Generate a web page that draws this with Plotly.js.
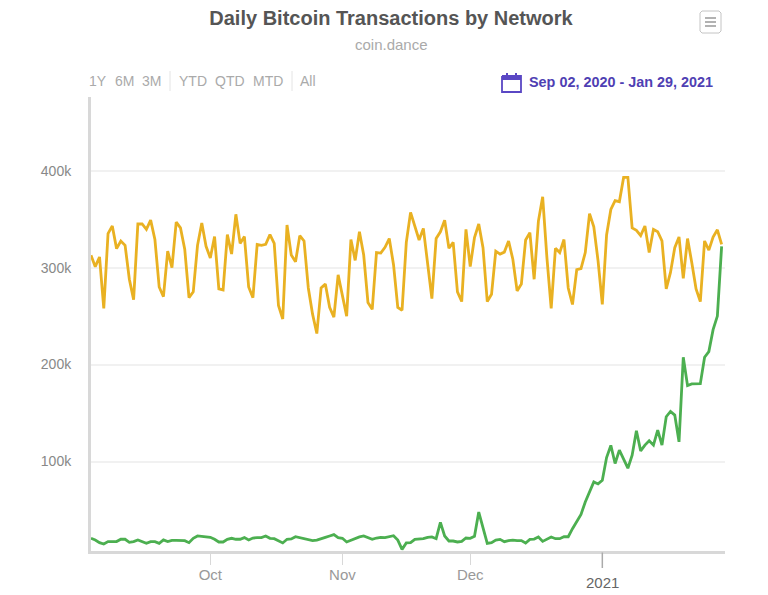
<!DOCTYPE html>
<html>
<head>
<meta charset="utf-8">
<title>Daily Bitcoin Transactions by Network</title>
<script src="https://cdn.plot.ly/plotly-3.0.1.min.js"></script>
<style>
  html, body { margin: 0; padding: 0; background: #fff; }
  #chart { width: 768px; height: 595px; }
</style>
</head>
<body>
<div id="chart"></div>
<script>
// daily values in thousands, first day is Sep 3 2020
const firstDay = '2020-09-03';

const bitcoinCore = [
  312.7, 301, 311, 258, 335, 343, 319.6, 327.5, 323, 288,
  267, 345, 345, 339.5, 349, 329, 280, 270, 317, 300,
  347, 341, 319, 269, 275, 323, 346, 322, 310, 332,
  278, 277, 334, 314, 355, 325, 332, 280, 269, 324,
  323, 324, 334, 325, 261, 247, 344, 313, 306, 333,
  327.5, 279, 252, 232, 279, 283, 259, 249, 292.5, 271,
  250, 329, 307.5, 337, 313, 264, 257, 315.5, 315, 321,
  330, 303, 259, 256, 326, 357, 343, 328.5, 340.5, 302,
  268, 330, 337, 349, 320, 326, 275, 265, 339.5, 301,
  331, 345, 320.6, 265, 272.5, 317, 314, 316, 327.5, 308.6,
  276, 283, 328.5, 336, 288, 348, 373, 310, 258, 320,
  315.5, 329, 279, 262, 298, 299, 315.5, 355.7, 342, 307,
  262, 333.7, 360, 369, 368, 393, 393, 341, 338.5, 333,
  343, 315.5, 339.5, 337, 327.5, 278, 295, 320.6, 331.6, 289,
  330, 305, 278, 265, 327.5, 318, 331.6, 339, 324
];

const segwit = [
  20.8, 19.1, 16.3, 14.9, 17.4, 17.4, 17.4, 19.8, 19.8, 16.7,
  17.4, 19.1, 17.4, 15.6, 17.4, 17.4, 15.6, 19.1, 17.4, 18.7,
  18.7, 18.7, 18.4, 16.3, 20.8, 23.2, 22.5, 21.8, 21.8, 19.8,
  17, 17, 19.8, 20.8, 19.8, 19.8, 21.5, 19.1, 21.1, 21.5,
  21.5, 23.2, 20.8, 20.4, 18.4, 16, 19.8, 20.1, 22.5, 21.5,
  20.1, 19, 18.4, 19, 20.1, 21.8, 23.2, 24.6, 21.5, 20.8,
  17, 18.7, 20.8, 22.2, 23.2, 21.5, 19.7, 21.1, 21.8, 21.5,
  22.8, 23.5, 19, 9.4, 16, 16.3, 19.7, 19.7, 20.4, 21.8,
  22.2, 20.4, 37.3, 23.2, 18, 18, 17, 17.7, 21.1, 20.8,
  22.8, 47.9, 31.8, 15.6, 16.3, 19, 19.7, 17.3, 18.4, 19,
  18.4, 18.4, 16, 19.7, 20, 22.1, 17.6, 19.7, 22.1, 20.4,
  20.4, 22.4, 22.4, 30.7, 38.6, 45.5, 58.3, 68.6, 79, 76.9,
  80.7, 104.1, 116.6, 97.9, 111.7, 102.4, 93.1, 106.6, 131.7, 111,
  116.9, 121.4, 116.9, 132.4, 116.9, 146.2, 151.7, 147.9, 120.3, 207.6,
  178.3, 180, 180.3, 180.3, 207.6, 213.4, 236, 250, 322
];

const yTicks = [100, 200, 300, 400];
const yLabels = ['100k', '200k', '300k', '400k'];
const monthTicks = ['2020-10-01', '2020-11-01', '2020-12-01'];
const monthLabels = ['Oct', 'Nov', 'Dec'];
const yearTick = '2021-01-01';
const yearLabel = '2021';
const rangeLabels = ['1Y', '6M', '3M', 'YTD', 'QTD', 'MTD', 'All'];
const rangeLabelX = [98, 124, 151, 193, 230, 268, 308];

const W = 768, H = 595;
const plot = { l: 91, r: 725, t: 97, b: 551 };

// page pixels to paper coordinates, for everything outside the plot area
const px = x => (x - plot.l) / (plot.r - plot.l);
const py = y => (plot.b - y) / (plot.b - plot.t);

const dates = bitcoinCore.map((_, i) => {
  const d = new Date(firstDay + 'T00:00:00Z');
  d.setUTCDate(d.getUTCDate() + i);
  return d.toISOString().slice(0, 10);
});

const traces = [
  { x: dates, y: segwit, name: 'SegWit', type: 'scatter', mode: 'lines',
    line: { color: '#4caf50', width: 2.8 }, cliponaxis: false },
  { x: dates, y: bitcoinCore, name: 'Legacy', type: 'scatter', mode: 'lines',
    line: { color: '#e9b122', width: 2.8 }, cliponaxis: false }
];

function pageText(text, x, y, size, color, extra) {
  return Object.assign({
    text: text, xref: 'paper', yref: 'paper', x: px(x), y: py(y),
    showarrow: false, xanchor: 'center', yanchor: 'middle',
    font: { family: 'Liberation Sans, Arial, sans-serif', size: size, color: color }
  }, extra || {});
}

function pageLine(x0, y0, x1, y1, color, width) {
  return { type: 'line', xref: 'paper', yref: 'paper', layer: 'above',
    x0: px(x0), y0: py(y0), x1: px(x1), y1: py(y1),
    line: { color: color, width: width } };
}

function pagePath(points, color, width) {
  const path = points.map((p, i) => (i ? 'L' : 'M') + px(p[0]) + ',' + py(p[1])).join(' ');
  return { type: 'path', xref: 'paper', yref: 'paper', layer: 'above', path: path,
    line: { color: color, width: width } };
}

const calendar = '#5a47c4';

const annotations = [
  pageText('coin.dance', 391, 44, 15, '#aaaaaa'),
  pageText('<b>Sep 02, 2020 - Jan 29, 2021</b>', 714.5, 82, 14.4, '#4f3fb3', { xanchor: 'right' }),
  // the year label sits lower than the month labels
  pageText(yearLabel, 0, 582, 15, '#666666', { xref: 'x', x: yearTick })
].concat(rangeLabels.map((t, i) => pageText(t, rangeLabelX[i], 81, 14, '#aaaaaa')));

const shapes = [
  // range selector separators
  pageLine(170, 71, 170, 91, '#e4e4e4', 1),
  pageLine(292, 71, 292, 91, '#e4e4e4', 1),
  // menu button
  pagePath([[702, 11], [719, 11], [721, 13], [721, 31], [719, 33], [702, 33], [700, 31], [700, 13], [702, 11]], '#c4c4c4', 1),
  pageLine(705, 18, 716, 18, '#999999', 1.5),
  pageLine(705, 22, 716, 22, '#999999', 1.5),
  pageLine(705, 26, 716, 26, '#999999', 1.5),
  // calendar icon
  pagePath([[502, 76], [521, 76], [521, 92], [502, 92], [502, 76]], calendar, 1.8),
  pageLine(502, 78, 521, 78, calendar, 4),
  pageLine(507, 73, 507, 77, calendar, 2),
  pageLine(516, 73, 516, 77, calendar, 2),
  // the year tick is longer and darker than the month ticks
  { type: 'line', xref: 'x', yref: 'paper', layer: 'above',
    x0: yearTick, x1: yearTick, y0: py(552.5), y1: py(568),
    line: { color: '#aaaaaa', width: 1.5 } }
];

const layout = {
  width: W,
  height: H,
  margin: { l: plot.l, r: W - plot.r, t: plot.t, b: H - plot.b, pad: 0 },
  paper_bgcolor: '#ffffff',
  plot_bgcolor: '#ffffff',
  showlegend: false,
  font: { family: 'Liberation Sans, Arial, sans-serif', size: 14, color: '#999999' },
  title: {
    text: '<b>Daily Bitcoin Transactions by Network</b>',
    font: { family: 'Liberation Sans, Arial, sans-serif', size: 20, color: '#555555' },
    x: px(391), xref: 'paper', xanchor: 'center',
    y: 1 - 18 / H, yref: 'container', yanchor: 'middle'
  },
  xaxis: {
    type: 'date',
    range: ['2020-09-03', '2021-01-29 19:00'],
    tickmode: 'array',
    tickvals: monthTicks,
    ticktext: monthLabels,
    ticks: 'outside',
    ticklen: 11,
    tickwidth: 1,
    tickcolor: '#d8d8d8',
    ticklabelstandoff: -3,
    tickfont: { size: 15, color: '#999999' },
    showgrid: false,
    showline: true,
    linecolor: '#d8d8d8',
    linewidth: 3,
    zeroline: false,
    fixedrange: true
  },
  yaxis: {
    range: [7.7, 476],
    tickmode: 'array',
    tickvals: yTicks,
    ticktext: yLabels,
    ticks: 'outside',
    ticklen: 14,
    tickcolor: 'rgba(0,0,0,0)',
    tickfont: { size: 14, color: '#888888' },
    showgrid: true,
    gridcolor: '#f1f1f1',
    gridwidth: 2,
    showline: true,
    linecolor: '#d8d8d8',
    linewidth: 3,
    zeroline: false,
    fixedrange: true
  },
  annotations: annotations,
  shapes: shapes
};

Plotly.newPlot('chart', traces, layout, { displayModeBar: false, responsive: false });
</script>
</body>
</html>
